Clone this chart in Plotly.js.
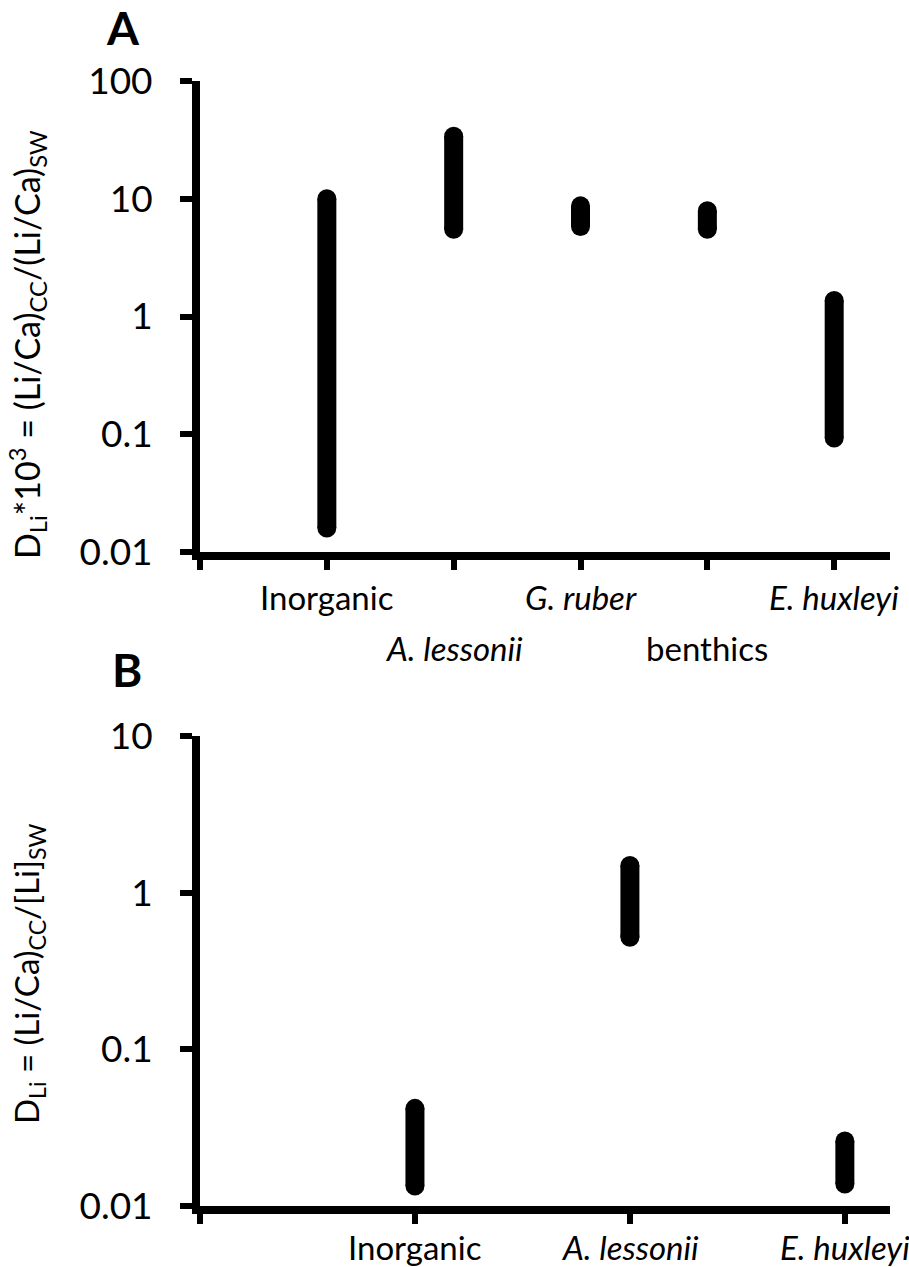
<!DOCTYPE html>
<html><head><meta charset="utf-8">
<script src="https://cdn.plot.ly/plotly-3.0.1.min.js"></script>
<style>body{margin:0;background:#fff}#chart{width:909px;height:1267px}</style>
</head><body><div id="chart"></div>
<script>
// Panel A data
const categoriesA = ["Inorganic", "A. lessonii", "G. ruber", "benthics", "E. huxleyi"];
const italicA = [false, true, true, false, true];
const labelRowA = [0, 1, 0, 1, 0];
const lowA = [0.016, 5.5, 5.8, 5.5, 0.093];
const highA = [10, 34, 8.7, 7.9, 1.37];
const yTicksA = [0.01, 0.1, 1, 10, 100];
const yTickTextA = ["0.01", "0.1", "1", "10", "100"];
// Panel B data
const categoriesB = ["Inorganic", "A. lessonii", "E. huxleyi"];
const italicB = [false, true, true];
const lowB = [0.0134, 0.52, 0.0138];
const highB = [0.042, 1.49, 0.026];
const yTicksB = [0.01, 0.1, 1, 10];
const yTickTextB = ["0.01", "0.1", "1", "10"];

const FONT = "Lato, 'Open Sans', sans-serif";
const BARW = 19;
const traces = [];
function addBars(lows, highs, xa, ya) {
  for (let i = 0; i < lows.length; i++) {
    traces.push({
      x: [i + 1, i + 1], y: [lows[i], highs[i]], xaxis: xa, yaxis: ya,
      mode: "lines+markers", type: "scatter", showlegend: false, hoverinfo: "skip",
      cliponaxis: false,
      line: {color: "#000", width: BARW},
      marker: {color: "#000", size: BARW, symbol: "circle", line: {width: 0}}
    });
  }
}
addBars(lowA, highA, "x", "y");
addBars(lowB, highB, "x2", "y2");

const H = 1267, W = 909;
const py = v => 1 - v / H;
const px = v => v / W;

const annotations = [];
categoriesA.forEach((c, i) => {
  annotations.push({
    x: i + 1, xref: "x", y: py(labelRowA[i] ? 648 : 597), yref: "paper",
    text: italicA[i] ? "<i>" + c + "</i>" : c, showarrow: false,
    xanchor: "center", yanchor: "middle", font: {family: FONT, size: 33, color: "#000"}
  });
});
categoriesB.forEach((c, i) => {
  annotations.push({
    x: i + 1, xref: "x2", y: py(1247), yref: "paper",
    text: italicB[i] ? "<i>" + c + "</i>" : c, showarrow: false,
    xanchor: "center", yanchor: "middle", font: {family: FONT, size: 33, color: "#000"}
  });
});
annotations.push({x: px(28), y: py(345), xref: "paper", yref: "paper", textangle: -90, showarrow: false,
  xanchor: "center", yanchor: "middle",
  text: "D<sub>Li</sub>*10<sup>3</sup> = (Li/Ca)<sub>CC</sub>/(Li/Ca)<sub>SW</sub>",
  font: {family: FONT, size: 34, color: "#000"}});
annotations.push({x: px(28), y: py(974), xref: "paper", yref: "paper", textangle: -90, showarrow: false,
  xanchor: "center", yanchor: "middle",
  text: "D<sub>Li</sub> = (Li/Ca)<sub>CC</sub>/[Li]<sub>SW</sub>",
  font: {family: FONT, size: 33, color: "#000"}});
annotations.push({x: px(123), y: py(28), xref: "paper", yref: "paper", showarrow: false,
  xanchor: "center", yanchor: "middle", text: "<b>A</b>", font: {family: FONT, size: 46, color: "#000"}});
annotations.push({x: px(127), y: py(669), xref: "paper", yref: "paper", showarrow: false,
  xanchor: "center", yanchor: "middle", text: "<b>B</b>", font: {family: FONT, size: 46, color: "#000"}});

const xBase = {
  showline: true, linewidth: 8, linecolor: "#000", ticks: "outside", ticklen: 10, tickwidth: 6,
  tickcolor: "#000", showticklabels: false, showgrid: false, zeroline: false, fixedrange: true,
  automargin: false
};
const yBase = {
  type: "log", showline: true, linewidth: 8, linecolor: "#000", ticks: "outside", ticklen: 12,
  tickwidth: 6, tickcolor: "#000", showgrid: false, zeroline: false, fixedrange: true,
  tickfont: {family: FONT, size: 37, color: "#000"}, ticklabelstandoff: 20, automargin: false
};
const layout = {
  width: W, height: H, margin: {l: 0, r: 0, t: 0, b: 0},
  paper_bgcolor: "#fff", plot_bgcolor: "#fff", showlegend: false,
  xaxis: Object.assign({}, xBase, {domain: [px(200), px(890)], range: [0, 5.44], anchor: "y",
    tickvals: [0, 1, 2, 3, 4, 5]}),
  yaxis: Object.assign({}, yBase, {domain: [py(552), py(81)], range: [-2, 2], anchor: "x",
    tickvals: yTicksA, ticktext: yTickTextA}),
  xaxis2: Object.assign({}, xBase, {domain: [px(200), px(890)], range: [0, 3.21], anchor: "y2",
    tickvals: [0, 1, 2, 3]}),
  yaxis2: Object.assign({}, yBase, {domain: [py(1206), py(736)], range: [-2, 1], anchor: "x2",
    tickvals: yTicksB, ticktext: yTickTextB}),
  annotations: annotations
};
Plotly.newPlot("chart", traces, layout, {displayModeBar: false, staticPlot: true});
</script></body></html>
